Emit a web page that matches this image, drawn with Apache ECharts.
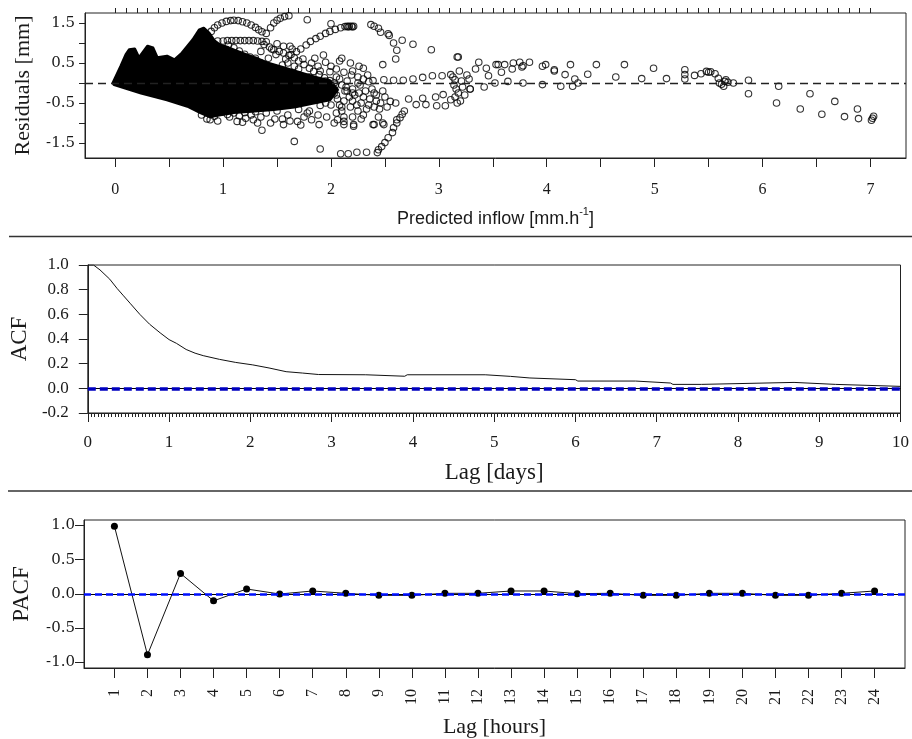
<!DOCTYPE html>
<html><head><meta charset="utf-8">
<script src="https://cdn.jsdelivr.net/npm/echarts@6/dist/echarts.min.js"></script>
<style>html,body{margin:0;padding:0;background:#fff}#c{width:912px;height:739px}</style>
</head><body><div id="c"></div>
<script>
// ---------- Panel 1: residuals vs predicted inflow ----------
// outline of the solid black cloud of overlapping circles (x, residual)
const denseRegion = [
 [-0.02,0.0],[0.053,0.42],[0.10,0.71],[0.13,0.83],[0.18,0.85],[0.22,0.63],[0.30,0.92],[0.35,0.875],
 [0.39,0.63],[0.48,0.67],[0.55,0.58],[0.62,0.75],[0.72,1.08],[0.78,1.33],[0.82,1.37],[0.87,1.25],
 [0.92,1.05],[0.97,0.95],[1.05,0.88],[1.12,0.8],[1.22,0.7],[1.32,0.6],[1.41,0.5],[1.56,0.38],[1.72,0.25],[1.86,0.14],[1.99,0.06],[2.06,-0.17],
 [1.99,-0.42],[1.84,-0.5],[1.66,-0.6],[1.47,-0.66],[1.29,-0.7],[1.10,-0.74],[0.92,-0.82],[0.88,-0.85],
 [0.79,-0.74],[0.67,-0.58],[0.48,-0.42],[0.24,-0.25],[-0.01,-0.04]
];
// individually visible circles (x, residual)
const residualPoints = [
 [0.89,1.29],[0.92,1.38],[0.95,1.45],[0.99,1.5],[1.03,1.54],[1.07,1.56],[1.10,1.57],[1.14,1.56],[1.18,1.53],[1.22,1.5],[1.26,1.45],[1.30,1.39],[1.33,1.33],[1.36,1.28],[1.40,1.24],
 [1.44,1.38],[1.47,1.5],[1.50,1.57],[1.53,1.62],[1.57,1.66],[1.61,1.68],[1.78,1.58],[2.0,1.48],
 [0.95,1.05],[1.0,1.05],[1.04,1.06],[1.08,1.06],[1.12,1.06],[1.16,1.06],[1.2,1.06],[1.24,1.06],[1.28,1.06],[1.32,1.05],[1.36,1.04],[1.40,1.03],
 [1.38,0.96],[1.43,0.9],[1.47,0.83],[1.52,0.79],[1.56,0.75],[1.61,0.69],[1.66,0.63],[1.70,0.55],[1.75,0.46],[1.80,0.37],[1.84,0.29],[1.89,0.21],[1.94,0.13],[1.99,0.06],[2.03,0.0],
 [1.63,0.71],[1.68,0.78],[1.72,0.85],[1.77,0.95],[1.81,1.04],[1.86,1.11],[1.90,1.17],[1.95,1.24],[1.99,1.29],[2.04,1.34],[2.09,1.38],[2.13,1.41],[2.15,1.42],[2.17,1.42],[2.19,1.42],[2.21,1.42],[2.16,1.40],[2.20,1.40],
 [2.37,1.46],[2.40,1.42],[2.44,1.37],[2.46,1.27],[2.53,1.23],[2.54,1.19],[2.58,1.0],[2.61,0.82],[2.60,0.6],[2.66,1.07],[2.76,0.97],[2.93,0.83],[3.17,0.65],
 [2.48,0.46],[2.30,0.37],[2.12,0.27],
 [1.05,0.95],[1.1,0.88],[1.15,0.8],[1.2,0.72],[1.25,0.65],[1.3,0.57],[1.35,0.5],[1.4,0.4],[1.45,0.32],[1.5,0.23],[1.55,0.14],[1.6,0.05],[1.65,-0.05],[1.7,-0.15],
 [1.35,0.79],[1.49,0.71],[1.3,0.62],[1.6,0.5],[1.7,0.35],[1.8,0.15],[1.9,0.3],[1.95,0.05],[2.05,0.15],[2.1,-0.05],[2.15,0.05],[2.25,0.0],[2.3,0.1],[2.35,0.03],
 [1.62,0.92],[1.85,0.62],[1.95,0.52],[2.08,0.55],[2.2,0.3],[2.25,0.15],[2.05,0.35],[1.99,0.28],
 [1.42,0.62],[1.55,0.45],[1.58,0.6],[1.66,0.42],[1.74,0.6],[1.82,0.5],[1.88,0.42],[1.93,0.7],[2.0,0.42],[2.1,0.62],[2.18,0.5],[2.26,0.42],[1.5,0.98],[1.56,0.92],[1.64,0.85],[1.45,0.85],
 [2.39,0.06],[2.49,0.08],[2.58,0.07],[2.67,0.07],[2.76,0.1],[2.85,0.14],[2.94,0.18],[3.03,0.18],[3.11,0.21],
 [2.55,-0.46],[2.60,-0.5],[2.72,-0.4],[2.79,-0.54],[2.85,-0.38],[2.88,-0.54],[2.97,-0.35],[2.98,-0.57],[3.04,-0.29],[3.06,-0.57],[3.11,-0.42],
 [3.13,0.15],[3.15,0.08],[3.14,-0.05],[3.16,-0.15],[3.18,-0.25],[3.15,-0.35],[3.2,-0.45],[3.17,-0.5],[3.19,0.3],[3.21,0.05],[3.22,-0.1],[3.24,-0.3],[3.26,0.2],[3.28,0.1],[3.29,-0.15],[3.18,0.65],
 [3.37,0.52],[3.34,0.35],[3.44,0.37],[3.46,0.18],[3.42,-0.1],[3.52,0.0],[3.53,0.46],[3.55,0.46],[3.58,0.27],[3.61,0.46],[3.64,0.04],[3.68,0.35],[3.69,0.5],[3.75,0.52],[3.77,0.4],[3.78,0.43],[3.84,0.52],[3.78,0.0],[3.96,0.42],[3.99,0.46],[3.96,-0.04],[4.07,0.33],[4.07,0.3],[4.17,0.21],[4.22,0.46],[4.13,-0.08],[4.24,-0.08],[4.26,0.1],[4.29,0.0],[4.38,0.22],[4.46,0.46],[3.29,-0.15],
 [4.72,0.46],[4.64,0.15],[4.99,0.37],[4.88,0.11],[5.11,0.11],[5.28,0.33],[5.28,0.21],[5.28,0.1],[5.37,0.19],[5.43,0.23],[5.48,0.29],[5.50,0.27],[5.52,0.28],[5.56,0.23],[5.59,0.12],[5.60,0.0],[5.64,-0.08],[5.66,0.08],[5.68,0.02],[5.73,0.0],[5.62,-0.03],[5.65,0.04],
 [5.87,0.07],[5.87,-0.27],[6.15,-0.08],[6.13,-0.5],[6.44,-0.27],[6.35,-0.65],[6.55,-0.78],[6.67,-0.46],[6.76,-0.84],[6.88,-0.65],[6.89,-0.89],[7.01,-0.93],[7.03,-0.83],[7.02,-0.88],
 [2.64,-0.87],[2.61,-1.0],[2.58,-1.12],[2.57,-1.24],[2.53,-1.37],[2.50,-1.49],[2.47,-1.59],[2.44,-1.67],[2.43,-1.74],[2.09,-1.77],[2.16,-1.77],[2.24,-1.73],[2.33,-1.73],[2.40,-1.04],[2.49,-1.04],[2.66,-0.78],[2.68,-0.7],
 [0.92,-0.83],[1.04,-0.79],[1.13,-0.96],[1.21,-0.88],[1.28,-0.92],[1.36,-1.18],[1.44,-1.0],[1.56,-1.04],[1.66,-1.46],[1.69,-0.96],[1.89,-1.04],[1.90,-1.65],[2.03,-1.0],[2.12,-1.04],[2.21,-1.08],[2.39,-1.04],[2.48,-1.0],[2.61,-0.92],[2.06,-0.92],[2.12,-0.96],[2.21,-1.04],
 [1.0,-0.72],[1.1,-0.75],[1.2,-0.74],[1.3,-0.72],[1.4,-0.75],[1.5,-0.7],[1.6,-0.8],[1.7,-0.66],[1.8,-0.7],[1.9,-0.56],[1.95,-0.5],[2.0,-0.55],[2.05,-0.3],[2.1,-0.6],[2.15,-0.2],[2.2,-0.45],[2.25,-0.7],[2.3,-0.35],[2.35,-0.55],[2.4,-0.25],[2.45,-0.65],[2.3,-0.8],[2.2,-0.85],[2.42,-0.45],[2.05,-0.75],[1.75,-0.85],[1.55,-0.9],[1.35,-0.85],[1.15,-0.82],[0.85,-0.9],[0.95,-0.95],
 [2.0,-0.15],[2.03,-0.25],[2.06,-0.4],[2.08,-0.55],[2.1,-0.7],[2.12,-0.85],[2.13,-0.2],[2.17,-0.35],[2.18,-0.6],[2.2,-0.15],[2.22,-0.3],[2.24,-0.55],[2.26,-0.25],[2.28,-0.5],[2.28,-0.9],[2.32,-0.2],[2.33,-0.65],[2.36,-0.4],[2.38,-0.15],[2.4,-0.6],[2.42,-0.3],[2.44,-0.85],[2.46,-0.5],[2.48,-0.2],[2.5,-0.35],[2.52,-0.6],[2.04,-0.05],[2.08,0.1],[2.14,-0.1],[2.19,0.2],[2.27,-0.05],[2.34,0.2],[2.2,-0.25],[2.12,-0.45],
 [1.06,-0.85],[1.18,-0.98],[1.26,-0.8],[1.32,-1.0],[1.48,-0.9],[1.62,-0.95],[1.72,-1.05],[1.82,-0.92],[1.96,-0.85],[1.78,-0.75],[1.88,-0.8],[0.8,-0.8],[0.88,-0.92]
];
const resXTicks = [0,0.5,1,1.5,2,2.5,3,3.5,4,4.5,5,5.5,6,6.5,7];
const resXLabels = [0,1,2,3,4,5,6,7];
const resYTicks = [-1.5,-1,-0.5,0,0.5,1,1.5];
const resYLabels = [-1.5,-0.5,0.5,1.5];

// ---------- Panel 2: ACF ----------
const acfLag = [0,0.07,0.15,0.27,0.36,0.44,0.52,0.64,0.76,0.89,1.0,1.09,1.21,1.32,1.42,1.62,1.82,2.03,2.23,2.44,2.64,2.84,3.42,3.44,3.9,3.93,4.89,4.9,5.2,5.22,5.44,5.46,6.0,6.03,6.74,6.76,7.17,7.2,7.55,7.57,8.69,8.7,9.2,9.22,10];
const acfValue = [1.0,1.0,0.96,0.885,0.81,0.75,0.69,0.60,0.52,0.45,0.395,0.365,0.315,0.285,0.265,0.235,0.21,0.19,0.165,0.135,0.124,0.112,0.11,0.098,0.098,0.11,0.11,0.097,0.097,0.084,0.084,0.07,0.07,0.059,0.059,0.043,0.043,0.032,0.032,0.048,0.048,0.032,0.032,0.016,0.016];

// ---------- Panel 3: PACF ----------
const pacfLag = [1,2,3,4,5,6,7,8,9,10,11,12,13,14,15,16,17,18,19,20,21,22,23,24];
const pacfValue = [0.99,-0.888,0.30,-0.10,0.073,0.0,0.044,0.01,-0.02,-0.02,0.01,0.01,0.044,0.044,0.005,0.01,-0.02,-0.02,0.01,0.01,-0.02,-0.02,0.01,0.044];
const pacfYTicks = [-1,-0.5,0,0.5,1];

const resXMinor = [];
for (let i = 0; i <= 70; i++) resXMinor.push(i / 10);

const serif = "'Liberation Serif','Times New Roman',serif";
const txt = '#1a1a1a';
const axisCol = '#222';

const chart = echarts.init(document.getElementById('c'), null, {renderer: 'canvas'});
const option = {
  animation: false,
  backgroundColor: '#fff',
  grid: [
    {left: 85, top: 13, width: 821, height: 145, show: true, borderColor: axisCol, borderWidth: 1},
    {left: 84, top: 265, width: 821, height: 148, show: true, borderColor: axisCol, borderWidth: 1},
    {left: 84, top: 520, width: 821, height: 148, show: true, borderColor: axisCol, borderWidth: 1}
  ],
  xAxis: [
    {type: 'value', gridIndex: 0, min: -0.28, max: 7.33,
     axisLine: {show: true, onZero: false, lineStyle: {color: axisCol}},
     axisTick: {show: true, customValues: resXTicks, length: 9, lineStyle: {color: axisCol}},
     axisLabel: {customValues: resXLabels, margin: 24, fontFamily: serif, fontSize: 16, color: txt, formatter: v => String(Math.round(v))},
     splitLine: {show: false},
     name: '{a|Predicted inflow [mm.h}{s|-1}{a|]}', nameLocation: 'middle', nameGap: 48,
     nameTextStyle: {rich: {
       a: {fontFamily: "'Liberation Sans',Arial,sans-serif", fontSize: 18, color: txt, lineHeight: 22, verticalAlign: 'bottom'},
       s: {fontFamily: "'Liberation Sans',Arial,sans-serif", fontSize: 11, color: txt, lineHeight: 22, verticalAlign: 'top'}
     }}},
    {type: 'value', gridIndex: 0, min: -0.28, max: 7.33,
     axisLine: {show: false, onZero: false},
     axisTick: {show: true, customValues: resXMinor, length: 5, lineStyle: {color: axisCol}},
     axisLabel: {show: false}, splitLine: {show: false}},
    {type: 'value', gridIndex: 1, min: 0, max: 10, interval: 1,
     axisLine: {show: true, onZero: false, lineStyle: {color: axisCol}},
     axisTick: {show: true, length: 9, lineStyle: {color: axisCol}},
     minorTick: {show: true, splitNumber: 24, length: 4, lineStyle: {color: axisCol}},
     axisLabel: {margin: 21, fontFamily: serif, fontSize: 17, color: txt},
     splitLine: {show: false}, minorSplitLine: {show: false},
     name: 'Lag [days]', nameLocation: 'middle', nameGap: 48,
     nameTextStyle: {fontFamily: serif, fontSize: 23, color: txt}},
    {type: 'value', gridIndex: 2, min: 0.08, max: 24.92,
     axisLine: {show: true, onZero: false, lineStyle: {color: axisCol}},
     axisTick: {show: true, customValues: pacfLag, length: 10, lineStyle: {color: axisCol}},
     axisLabel: {customValues: pacfLag, rotate: 90, margin: 21, fontFamily: serif, fontSize: 16, color: txt, formatter: v => String(Math.round(v))},
     splitLine: {show: false},
     name: 'Lag [hours]', nameLocation: 'middle', nameGap: 48,
     nameTextStyle: {fontFamily: serif, fontSize: 22, color: txt}}
  ],
  yAxis: [
    {type: 'value', gridIndex: 0, min: -1.875, max: 1.75,
     axisLine: {show: true, onZero: false, lineStyle: {color: axisCol}},
     axisTick: {show: true, customValues: resYTicks, length: 6, lineStyle: {color: axisCol}},
     axisLabel: {customValues: resYLabels, margin: 10, fontFamily: "'DejaVu Serif',serif", fontSize: 15, color: txt, formatter: v => v.toFixed(1)},
     splitLine: {show: false},
     name: 'Residuals [mm]', nameLocation: 'middle', nameGap: 51,
     nameTextStyle: {fontFamily: serif, fontSize: 22, color: txt}},
    {type: 'value', gridIndex: 1, min: -0.2, max: 1.0, interval: 0.2,
     axisLine: {show: true, onZero: false, lineStyle: {color: axisCol}},
     axisTick: {show: true, length: 9, lineStyle: {color: axisCol}},
     axisLabel: {margin: 19, fontFamily: serif, fontSize: 17, color: txt, formatter: v => v.toFixed(1)},
     splitLine: {show: false},
     name: 'ACF', nameLocation: 'middle', nameGap: 51,
     nameTextStyle: {fontFamily: serif, fontSize: 23, color: txt}},
    {type: 'value', gridIndex: 2, min: -1.08, max: 1.08,
     axisLine: {show: true, onZero: false, lineStyle: {color: axisCol}},
     axisTick: {show: true, customValues: pacfYTicks, length: 9, lineStyle: {color: axisCol}},
     axisLabel: {customValues: pacfYTicks, margin: 9, fontFamily: "'DejaVu Serif',serif", fontSize: 15, color: txt, formatter: v => v.toFixed(1)},
     splitLine: {show: false},
     name: 'PACF', nameLocation: 'middle', nameGap: 51,
     nameTextStyle: {fontFamily: serif, fontSize: 23, color: txt}}
  ],
  series: [
    {type: 'custom', name: 'dense', xAxisIndex: 0, yAxisIndex: 0, clip: true,
     data: denseRegion, encode: {x: 0, y: 1}, silent: true,
     renderItem: function (params, api) {
       if (params.dataIndex !== 0) return null;
       const pts = denseRegion.map(p => api.coord(p));
       return {type: 'polygon', shape: {points: pts}, style: {fill: '#000', stroke: '#000', lineWidth: 3, lineJoin: 'round'}};
     }},
    {type: 'scatter', name: 'residuals', xAxisIndex: 0, yAxisIndex: 0, data: residualPoints,
     symbol: 'circle', symbolSize: 6.5, clip: true,
     itemStyle: {color: 'rgba(255,255,255,0)', borderColor: '#000', borderWidth: 1.1},
     markLine: {silent: true, symbol: 'none', label: {show: false},
       lineStyle: {color: '#222', type: [8, 5], width: 1.3}, data: [{yAxis: 0}]}},
    {type: 'line', name: 'acf', xAxisIndex: 2, yAxisIndex: 1,
     data: acfLag.map((l, i) => [l, acfValue[i]]), showSymbol: false,
     lineStyle: {color: '#111', width: 1}},
    {type: 'line', name: 'acfzero', xAxisIndex: 2, yAxisIndex: 1, data: [],
     markLine: {silent: true, symbol: 'none', label: {show: false},
       data: [
         {yAxis: 0, lineStyle: {color: '#000', type: 'solid', width: 1}},
         {yAxis: 0, lineStyle: {color: '#0000c0', type: [8, 4], width: 3.5}}
       ]}},
    {type: 'line', name: 'pacfzero', xAxisIndex: 3, yAxisIndex: 2, data: [], z: 1,
     markLine: {silent: true, symbol: 'none', label: {show: false},
       data: [
         {yAxis: 0, lineStyle: {color: '#000', type: 'solid', width: 1}},
         {yAxis: 0, lineStyle: {color: '#0010ff', type: [7, 4], width: 2.5}}
       ]}},
    {type: 'line', name: 'pacf', xAxisIndex: 3, yAxisIndex: 2, z: 3,
     data: pacfLag.map((l, i) => [l, pacfValue[i]]),
     symbol: 'circle', symbolSize: 7, showSymbol: true,
     itemStyle: {color: '#000'}, lineStyle: {color: '#111', width: 1}}
  ],
  graphic: [
    {type: 'line', shape: {x1: 9, y1: 236.5, x2: 912, y2: 236.5}, style: {stroke: '#333', lineWidth: 1.5}, silent: true},
    {type: 'line', shape: {x1: 8, y1: 491, x2: 912, y2: 491}, style: {stroke: '#333', lineWidth: 1.5}, silent: true}
  ]
};
chart.setOption(option);
</script>
</body></html>
